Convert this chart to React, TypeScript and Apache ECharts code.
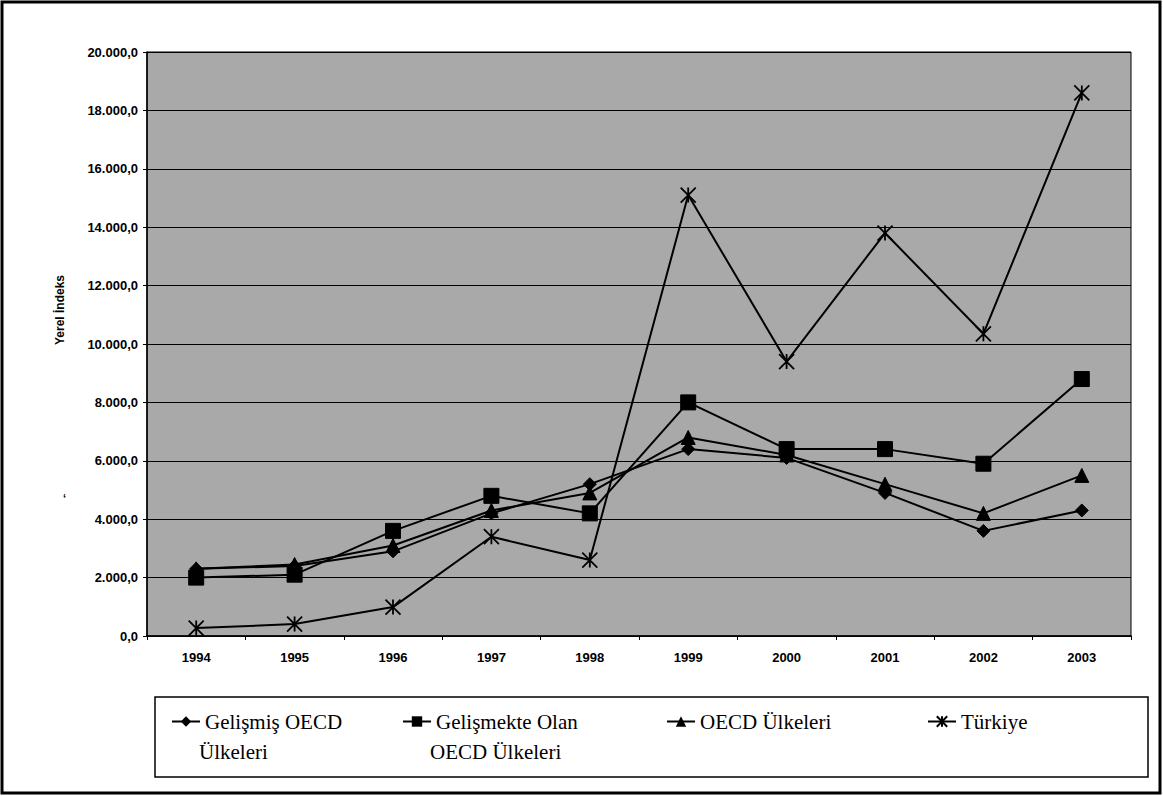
import React, { useEffect, useRef } from "react";
import * as echarts from "echarts";

const years = ["1994", "1995", "1996", "1997", "1998", "1999", "2000", "2001", "2002", "2003"];
const gelismis = [2300, 2400, 2900, 4200, 5200, 6400, 6100, 4900, 3600, 4300];
const gelismekte = [2000, 2100, 3600, 4800, 4200, 8000, 6400, 6400, 5900, 8800];
const oecd = [2300, 2450, 3100, 4300, 4900, 6800, 6200, 5200, 4200, 5500];
const turkiye = [270, 410, 990, 3400, 2600, 15100, 9400, 13800, 10350, 18600];
const seriesNames = ["Gelişmiş OECD Ülkeleri", "Gelişmekte Olan OECD Ülkeleri", "OECD Ülkeleri", "Türkiye"];
const legendFirstLines = ["Gelişmiş OECD", "Gelişmekte Olan", "OECD Ülkeleri", "Türkiye"];
const legendSecondLines = ["Ülkeleri", "OECD Ülkeleri", "", ""];

const asterisk = "path://M0,0L10,10M10,0L0,10M5,0L5,10";
const SERIF = "Liberation Serif";
const SANS = "Liberation Sans";

export default function App() {
  const ref = useRef<HTMLDivElement>(null);
  useEffect(() => {
    document.body.style.margin = "0";
    const chart = echarts.init(ref.current!, undefined, { renderer: "svg" });
    const fmt = (v: number) =>
      v.toLocaleString("de-DE", { minimumFractionDigits: 1, maximumFractionDigits: 1 });
    const mk = (name: string, data: number[], symbol: string, size: number, z: number) => ({
      name,
      type: "line",
      data,
      symbol,
      symbolSize: size,
      z,
      lineStyle: { color: "#000", width: 2 },
      itemStyle: symbol === asterisk
        ? { color: "rgba(0,0,0,0)", borderColor: "#000", borderWidth: 1.8 }
        : { color: "#000", borderColor: "#000" },
      emphasis: { disabled: true },
    });
    const legendLefts = [166, 397, 661, 922];
    chart.setOption({
      animation: false,
      backgroundColor: "#fff",
      grid: {
        left: 147, right: 32, top: 52, bottom: 160,
        show: true, backgroundColor: "#a9a9a9", borderColor: "#000", borderWidth: 1,
      },
      xAxis: {
        type: "category",
        data: years,
        boundaryGap: true,
        axisLine: { lineStyle: { color: "#000", width: 1.5 } },
        axisTick: { show: true, length: 4, lineStyle: { color: "#000" } },
        axisLabel: { color: "#000", fontFamily: SANS, fontWeight: "bold", fontSize: 13, margin: 15 },
        splitLine: { show: false },
      },
      yAxis: {
        type: "value",
        min: 0, max: 20000, interval: 2000,
        axisLine: { show: true, lineStyle: { color: "#000", width: 1.5 } },
        axisTick: { show: true, length: 4, lineStyle: { color: "#000" } },
        axisLabel: { color: "#000", fontFamily: SANS, fontWeight: "bold", fontSize: 13, margin: 9, formatter: fmt },
        splitLine: { show: true, lineStyle: { color: "#000", width: 1 } },
      },
      legend: seriesNames.map((n, i) => ({
        data: [n],
        left: legendLefts[i],
        top: 706,
        itemWidth: 28,
        itemHeight: 13,
        itemGap: 4,
        textStyle: { fontFamily: SERIF, fontSize: 21, color: "#000" },
        formatter: () => legendFirstLines[i],
        selectedMode: false,
      })),
      graphic: [
        { type: "rect", z: -10, shape: { x: 2, y: 2, width: 1158, height: 791 }, style: { fill: "none", stroke: "#000", lineWidth: 3 } },
        { type: "rect", z: -5, shape: { x: 155, y: 697, width: 993, height: 80 }, style: { fill: "#fff", stroke: "#000", lineWidth: 1.5 } },
        ...legendSecondLines.map((t, i) => ({
          type: "text",
          left: legendLefts[i] + 33,
          top: 741,
          style: { text: t, fontFamily: SERIF, fontSize: 21, fill: "#000" },
        })),
        {
          type: "text", x: 60, y: 310, rotation: Math.PI / 2,
          style: { text: "Yerel İndeks", fontFamily: SANS, fontWeight: "bold", fontSize: 12, fill: "#000", align: "center", verticalAlign: "middle" },
        },
        { type: "text", left: 63, top: 492, style: { text: "‘", fill: "#000", fontFamily: SANS, fontWeight: "bold", fontSize: 11 } },
      ],
      series: [
        mk(seriesNames[0], gelismis, "diamond", 13, 3),
        mk(seriesNames[1], gelismekte, "rect", 15, 2),
        mk(seriesNames[2], oecd, "triangle", 14, 4),
        mk(seriesNames[3], turkiye, asterisk, 15, 1),
      ],
    });
    return () => chart.dispose();
  }, []);
  return <div ref={ref} style={{ width: 1163, height: 796 }} />;
}
